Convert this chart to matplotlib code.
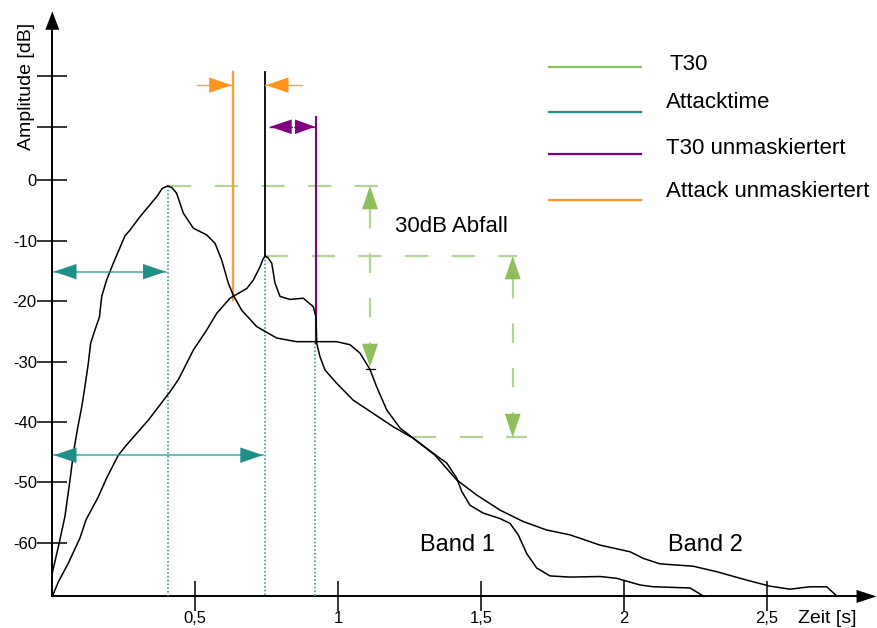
import matplotlib
matplotlib.use("Agg")
import matplotlib.pyplot as plt
from matplotlib.patches import Polygon

plt.rcParams['font.family'] = ['Liberation Sans', 'DejaVu Sans']
plt.rcParams['lines.scale_dashes'] = False

# ---------------- data (time in s, level in dB) ----------------
early_t = [0.0, 0.021, 0.044, 0.062, 0.074, 0.0875, 0.103, 0.114, 0.126, 0.134,
           0.149, 0.165, 0.173, 0.190, 0.2135, 0.254, 0.272, 0.307, 0.365, 0.385, 0.404,
           0.419, 0.435, 0.4585, 0.4935, 0.540, 0.5695, 0.593, 0.616, 0.6335, 0.663, 0.7155,
           0.7855, 0.855, 0.9255, 0.995, 1.042, 1.077, 1.112, 1.1355, 1.1705, 1.217,
           1.2635, 1.3395, 1.4155, 1.4855, 1.567, 1.6485, 1.7305, 1.812, 1.917, 2.022,
           2.0686, 2.127, 2.2436, 2.3255, 2.4305, 2.512, 2.582, 2.652, 2.7105, 2.7476]
early_db = [-65.0, -60.7, -55.7, -49.6, -45.1, -41.3, -37.5, -34.2, -30.3, -27.0,
            -24.8, -22.6, -19.2, -16.5, -13.7, -9.2, -8.2, -6.0, -2.7, -1.3, -0.9,
            -1.2, -2.1, -5.4, -7.9, -9.0, -10.4, -13.2, -17.0, -19.0, -21.5, -24.2,
            -26.1, -26.7, -26.7, -26.7, -27.2, -28.6, -31.3, -34.2, -38.0, -41.0,
            -42.7, -45.5, -49.6, -52.1, -54.6, -56.5, -57.9, -58.7, -60.4, -61.5,
            -62.6, -63.5, -63.9, -64.8, -66.2, -67.2, -67.7, -67.3, -67.3, -68.9]

late_t = [0.0, 0.021, 0.056, 0.097, 0.118, 0.161, 0.190, 0.231, 0.260, 0.336,
          0.412, 0.441, 0.470, 0.4935, 0.540, 0.5755, 0.622, 0.651, 0.6805, 0.7035,
          0.727, 0.737, 0.7445, 0.755, 0.768, 0.7795, 0.797, 0.832, 0.8785, 0.9135, 0.923, 0.9255,
          0.937, 0.9545, 0.9955, 1.0535, 1.1236, 1.1936, 1.2635, 1.3336, 1.3805, 1.4155,
          1.433, 1.462, 1.5086, 1.567, 1.602, 1.631, 1.6605, 1.6955, 1.742, 1.812,
          1.917, 1.9755, 2.057, 2.1036, 2.232, 2.281]
late_db = [-68.9, -66.5, -63.4, -59.2, -56.2, -52.4, -49.3, -45.5, -43.8, -39.7,
           -35.0, -33.0, -30.3, -28.1, -24.8, -22.0, -19.5, -18.7, -17.9, -16.5,
           -14.3, -13.1, -12.5, -12.8, -13.7, -17.0, -19.2, -19.7, -19.5, -20.9, -22.6, -27.0,
           -29.2, -31.4, -33.6, -36.4, -38.6, -40.8, -42.7, -45.2, -46.8, -49.3,
           -51.5, -53.8, -55.1, -56.0, -56.8, -58.7, -61.8, -64.2, -65.5, -65.7,
           -65.6, -65.9, -67.0, -67.3, -67.5, -68.9]

x_ticks = [0.5, 1.0, 1.5, 2.0, 2.5]
x_tick_labels = ['0,5', '1', '1,5', '2', '2,5']
y_ticks = [0, -10, -20, -30, -40, -50, -60]
y_tick_labels = ['0', '-10', '-20', '-30', '-40', '-50', '-60']
y_ticks_unlabeled = [8.9, 17.3]

axis_db = -68.9                 # level where the time axis sits
peak_early = (0.404, -0.9)      # (t, dB)
peak_late = (0.7445, -12.5)
decay_db = 30                   # T30 range
t30_marker_t = [1.112, 1.6115]
t30_ext_end = [1.141, 1.6255]
t30_low_line = (1.2635, 1.6615)
attack_unmasked_t = 0.6314
attack_unmasked_db = (18.0, -19.8)
attack_arrow_db = 15.8
attack_arrow_tails = (0.5054, 0.873)
t30_unmasked_t = 0.922
t30_unmasked_db = (10.5, -27.0)
t30_unm_arrow = (0.762, 0.8435, 0.9195, 8.9)
attack_arrows_db = [-15.1, -45.5]

legend_labels = ['T30', 'Attacktime', 'T30 unmaskiertert', 'Attack unmaskiertert']
legend_colors = ['#8dc05b', '#1f8f8a', '#800080', '#ff9320']
legend_line_db = [18.85, 11.3, 4.39, -3.23]
legend_text_db = [19.2, 12.84, 5.38, -1.9]

GREEN_DASH = '#b0d494'
GREEN_HEAD = '#8fbf5c'
TEAL = '#1f8f8a'
TEAL_DOT = '#4aa8a8'
PURPLE = '#800080'
ORANGE = '#f9a033'
ORANGE_HEAD = '#ff951c'

# ---------------- figure ----------------
W, H = 877, 628
fig = plt.figure(figsize=(W / 100, H / 100), dpi=100)
ax = fig.add_axes([0, 0, 1, 1])
xlim = (-0.1831, 2.8866)
ylim = (-74.13, 29.90)
ax.set_xlim(*xlim)
ax.set_ylim(*ylim)
sx = W / (xlim[1] - xlim[0])   # px per second
sy = H / (ylim[1] - ylim[0])   # px per dB


def tri(x, y, direction, length, half, color, z=5):
    dirs = {'up': (0, 1), 'down': (0, -1), 'left': (-1, 0), 'right': (1, 0)}
    dx, dy = dirs[direction]
    bx, by = -dx * length, -dy * length
    px, py = -dy * half, dx * half
    pts = [(x, y),
           (x + (bx + px) / sx, y + (by + py) / sy),
           (x + (bx - px) / sx, y + (by - py) / sy)]
    ax.add_patch(Polygon(pts, closed=True, facecolor=color, edgecolor='none', zorder=z))


# axes
for s in ['top', 'right']:
    ax.spines[s].set_visible(False)
ax.spines['left'].set_position(('data', 0))
ax.spines['bottom'].set_position(('data', axis_db))
ax.spines['left'].set_bounds(axis_db, 25.2)
ax.spines['bottom'].set_bounds(0, 2.82)
ax.spines['left'].set_linewidth(1.4)
ax.spines['bottom'].set_linewidth(1.4)
ax.set_xticks(x_ticks, labels=x_tick_labels, fontsize=12)
ax.set_yticks(y_ticks + y_ticks_unlabeled, labels=y_tick_labels + ['', ''], fontsize=12)
ax.tick_params(axis='both', direction='inout', length=22, width=1.1, colors='black')
ax.tick_params(axis='y', pad=0.2)
ax.tick_params(axis='x', pad=-0.3)
tri(0, 28.0, 'up', 18.3, 7, 'black')
tri(2.885, axis_db, 'right', 20, 6.5, 'black')

ax.text(-0.0906, 15.5, 'Amplitude [dB]', rotation=90, ha='center', va='center', fontsize=14)
ax.text(2.610, -72.6, 'Zeit [s]', ha='left', va='center', fontsize=14)

# curves
ax.plot(early_t, early_db, color='black', lw=1.1, zorder=4, solid_joinstyle='round')
ax.plot(late_t, late_db, color='black', lw=1.1, zorder=4, solid_joinstyle='round')

# T30 construction (green)
dash = (0, (16.8, 16.8))
peaks = [peak_early, peak_late]
ax.plot([peak_early[0], t30_ext_end[0]], [peak_early[1]] * 2, color=GREEN_DASH, lw=1.6, ls=dash, zorder=2)
ax.plot([peak_late[0], t30_ext_end[1]], [peak_late[1]] * 2, color=GREEN_DASH, lw=1.6, ls=dash, zorder=2)
ax.plot(list(t30_low_line), [peak_late[1] - decay_db] * 2, color=GREEN_DASH, lw=1.6, ls=dash, zorder=2)
for (pt, pdb), mt in zip(peaks, t30_marker_t):
    top, bot = pdb, pdb - decay_db
    ax.plot([mt, mt], [top - 23 / sy, bot + 23 / sy], color=GREEN_DASH, lw=1.6,
            ls=(0, (14, 18)), zorder=2)
    tri(mt, top, 'up', 23.3, 8, GREEN_HEAD)
    tri(mt, bot, 'down', 23.3, 8, GREEN_HEAD)
ax.plot([t30_marker_t[0] - 4 / sx, t30_marker_t[0] + 5 / sx],
        [peak_early[1] - decay_db - 0.4] * 2, color='black', lw=0.9, zorder=6)
ax.text(1.1995, -7.7, '30dB Abfall', ha='left', va='center', fontsize=16)

# Attacktime (teal)
for xt, top in [(peak_early[0], peak_early[1]), (peak_late[0], peak_late[1]),
                (t30_unmasked_t - 0.003, t30_unmasked_db[1])]:
    ax.plot([xt, xt], [top, axis_db], color=TEAL_DOT, lw=1.4, ls=(0, (1.1, 1.6)), zorder=3)
for (pt, pdb), adb in zip(peaks, attack_arrows_db):
    x0, x1 = 1.5 / sx, pt - 2 / sx
    ax.plot([x0, x1], [adb, adb], color=TEAL, lw=1.1, alpha=0.8, zorder=5)
    tri(x0, adb, 'left', 22.7, 7.7, TEAL)
    tri(x1, adb, 'right', 22.7, 7.7, TEAL)

# Attack unmaskiert (orange) + reference line (black)
ax.plot([attack_unmasked_t] * 2, list(attack_unmasked_db), color=ORANGE, lw=1.7, zorder=3)
ax.plot([peak_late[0]] * 2, [attack_unmasked_db[0], peak_late[1]], color='black', lw=1.3, zorder=3)
ax.plot([attack_arrow_tails[0], attack_unmasked_t], [attack_arrow_db] * 2, color=ORANGE, lw=1.0, zorder=3)
ax.plot([peak_late[0], attack_arrow_tails[1]], [attack_arrow_db] * 2, color=ORANGE, lw=1.0, zorder=3)
tri(attack_unmasked_t - 1 / sx, attack_arrow_db, 'right', 22.5, 7.7, ORANGE_HEAD)
tri(peak_late[0] + 1 / sx, attack_arrow_db, 'left', 22.5, 7.7, ORANGE_HEAD)

# T30 unmaskiert (purple)
ax.plot([t30_unmasked_t] * 2, list(t30_unmasked_db), color=PURPLE, lw=1.5, zorder=3)
l_tip, mid, r_tip, adb = t30_unm_arrow
ax.plot([l_tip, r_tip], [adb, adb], color=PURPLE, lw=1.0, zorder=3)
tri(l_tip, adb, 'left', 21.7, 7.3, PURPLE)
tri(r_tip, adb, 'right', 20.0, 7.3, PURPLE)
ax.plot([mid, mid], [adb - 6 / sy, adb + 6 / sy], color='white', lw=0.8, zorder=6)

# labels
ax.text(1.287, -60.4, 'Band 1', ha='left', va='center', fontsize=17)
ax.text(2.155, -60.4, 'Band 2', ha='left', va='center', fontsize=17)

# legend (manual)
for lab, col, ldb, tdb in zip(legend_labels, legend_colors, legend_line_db, legend_text_db):
    ax.plot([1.7385, 2.0605], [ldb, ldb], color=col, lw=1.6)
    tx = 2.162 if lab == 'T30' else 2.148
    ax.text(tx, tdb, lab, ha='left', va='center', fontsize=16)

fig.savefig('out.png', dpi=100)
